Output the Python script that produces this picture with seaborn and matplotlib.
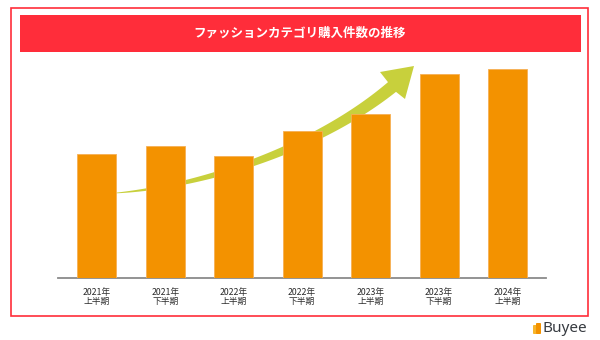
import numpy as np
import pandas as pd
import matplotlib
matplotlib.use("Agg")
import matplotlib.pyplot as plt
from matplotlib.patches import Rectangle, Polygon, FancyBboxPatch
import seaborn as sns

# Purchase counts in the fashion category per half-year (relative scale)
periods = ["2021年\n上半期", "2021年\n下半期", "2022年\n上半期", "2022年\n下半期",
           "2023年\n上半期", "2023年\n下半期", "2024年\n上半期"]
purchases = [124, 132, 122, 147, 164, 204, 209]
title = "ファッションカテゴリ購入件数の推移"

RED = "#FF2D3A"
ORANGE = "#F39200"
ARROW = "#C8D03C"

sns.set_theme(style="white")
plt.rcParams["font.family"] = ["Noto Sans CJK JP", "DejaVu Sans"]

W, H = 600, 340
fig = plt.figure(figsize=(W / 100, H / 100), dpi=100)
fig.patch.set_facecolor("white")


def fx(x):
    return x / W


def fy(y):
    return 1 - y / H


# outer frame and title banner
fig.patches.append(Rectangle((fx(11), fy(316)), fx(588) - fx(11), fy(8) - fy(316),
                             transform=fig.transFigure, fill=False,
                             edgecolor=RED, linewidth=1.2))
fig.patches.append(Rectangle((fx(20), fy(52)), fx(581) - fx(20), fy(15) - fy(52),
                             transform=fig.transFigure, facecolor=RED,
                             edgecolor="none"))
fig.text(fx(300), fy(33.5), title, color="white", fontsize=9, fontweight="bold",
         ha="center", va="center")

# bar chart
ax = fig.add_axes([fx(58), fy(278), fx(546) - fx(58), fy(60) - fy(278)])
df = pd.DataFrame({"period": periods, "purchases": purchases})
sns.barplot(data=df, x="period", y="purchases", ax=ax, color=ORANGE,
            saturation=1, width=0.57, edgecolor="#F6B054", linewidth=0.6,
            zorder=3)
ax.set_xlim(-0.565, 6.562)
ax.set_ylim(0, 218)
ax.set_xlabel("")
ax.set_ylabel("")
ax.set_yticks([])
ax.set_facecolor("none")
for side in ("top", "right", "left"):
    ax.spines[side].set_visible(False)
ax.spines["bottom"].set_color("#8A8A8A")
ax.spines["bottom"].set_linewidth(1.3)
ax.tick_params(axis="x", length=0, pad=7, labelsize=6.3, labelcolor="#2A2A2A")
for lbl in ax.get_xticklabels():
    lbl.set_linespacing(1.05)

# curved growth arrow behind the bars (pixel coordinates of the canvas)
P0 = np.array([116.0, 193.0])
P1 = np.array([205.0, 186.0])
P2 = np.array([318.0, 148.0])
P3 = np.array([392.0, 87.0])
t = np.linspace(0, 1, 80)[:, None]
centre = ((1 - t) ** 3) * P0 + 3 * ((1 - t) ** 2) * t * P1 + 3 * (1 - t) * t ** 2 * P2 + t ** 3 * P3
deriv = 3 * ((1 - t) ** 2) * (P1 - P0) + 6 * (1 - t) * t * (P2 - P1) + 3 * t ** 2 * (P3 - P2)
tang = deriv / np.linalg.norm(deriv, axis=1, keepdims=True)
normal = np.column_stack([-tang[:, 1], tang[:, 0]])
half = (0.6 + 12.0 * t[:, 0] ** 0.85) / 2
left = centre + normal * half[:, None]
right = centre - normal * half[:, None]
tip = np.array([414.0, 66.0])
head_a = np.array([380.0, 72.0])
head_b = np.array([405.0, 99.0])
# order the head corners so they sit on the matching sides of the shaft
if np.dot(head_a - P3, normal[-1]) < 0:
    head_a, head_b = head_b, head_a
pts = np.vstack([left, head_a[None, :], tip[None, :], head_b[None, :], right[::-1]])
arrow = Polygon(np.column_stack([fx(pts[:, 0]), fy(pts[:, 1])]), closed=True,
                transform=fig.transFigure, facecolor=ARROW, edgecolor="none",
                zorder=1, clip_on=False)
ax.add_patch(arrow)

# brand mark in the lower right corner
fig.patches.append(FancyBboxPatch((fx(533), fy(334)), fx(537) - fx(533), fy(325) - fy(334),
                                  boxstyle="round,pad=0,rounding_size=0.002",
                                  transform=fig.transFigure, facecolor="#F7B52C",
                                  edgecolor="none"))
fig.patches.append(FancyBboxPatch((fx(536), fy(334)), fx(541) - fx(536), fy(323) - fy(334),
                                  boxstyle="round,pad=0,rounding_size=0.002",
                                  transform=fig.transFigure, facecolor=ORANGE,
                                  edgecolor="none"))
fig.text(fx(542), fy(329), "Buyee", color="#363A40", fontsize=11,
         fontweight="semibold", ha="left", va="center",
         family=["Noto Sans", "DejaVu Sans"])

fig.savefig("out.png", dpi=100, facecolor="white")
